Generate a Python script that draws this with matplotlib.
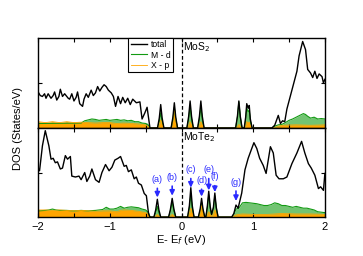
import matplotlib
matplotlib.use('Agg')
import matplotlib.pyplot as plt
from matplotlib.ticker import MultipleLocator

plt.rcParams['font.family'] = ['Liberation Sans', 'DejaVu Sans']

# --- MoS2 (panel superior) ---
e_mos2_tot = [-2.0, -1.97, -1.94, -1.91, -1.89, -1.86, -1.82, -1.79, -1.77, -1.74,
              -1.71, -1.69, -1.66, -1.63, -1.61, -1.58, -1.56, -1.53, -1.50, -1.47,
              -1.45, -1.42, -1.38, -1.36, -1.33, -1.30, -1.26, -1.23, -1.20, -1.17,
              -1.14, -1.11, -1.08, -1.05, -1.02, -0.98, -0.95, -0.92, -0.885, -0.85,
              -0.82, -0.785, -0.75, -0.715, -0.68, -0.63, -0.58, -0.55, -0.51, -0.48,
              -0.44, -0.335, -0.31, -0.29, -0.27, -0.245,
              -0.145, -0.12, -0.10, -0.08, -0.055,
              0.075, 0.10, 0.12, 0.14, 0.165,
              0.225, 0.25, 0.27, 0.29, 0.315,
              0.755, 0.78, 0.80, 0.82, 0.845,
              0.875, 0.895, 0.91, 0.93, 0.945, 0.96, 0.985,
              1.26, 1.30, 1.35, 1.38, 1.41, 1.44, 1.47, 1.52, 1.56, 1.61,
              1.64, 1.69, 1.73, 1.76, 1.80, 1.83, 1.86, 1.89, 1.92, 1.96, 1.98, 2.0]
dos_mos2_tot = [4.0, 3.6, 3.5, 3.8, 3.3, 3.8, 3.3, 3.6, 4.0, 3.1,
                3.5, 4.3, 3.5, 3.8, 3.6, 3.3, 3.2, 3.8, 3.0, 3.4,
                4.0, 2.7, 2.4, 3.2, 3.8, 3.4, 4.2, 3.6, 3.9, 4.6,
                4.1, 4.5, 4.8, 4.6, 4.2, 3.9, 3.5, 2.4, 3.5, 2.7,
                3.4, 2.8, 3.3, 2.6, 3.2, 2.8, 2.9, 1.0, 1.7, 2.3,
                0.0, 0.0, 1.1, 2.6, 1.1, 0.0,
                0.0, 1.2, 2.8, 1.2, 0.0,
                0.0, 1.3, 3.0, 1.3, 0.0,
                0.0, 1.3, 3.0, 1.3, 0.0,
                0.0, 1.3, 3.0, 1.3, 0.0,
                0.0, 1.2, 2.7, 2.2, 2.5, 1.0, 0.0,
                0.0, 0.3, 1.4, 0.5, 0.8, 0.7, 2.1, 3.6, 4.8, 6.3,
                8.0, 9.6, 8.7, 6.5, 6.1, 5.6, 6.3, 5.5, 6.0, 5.7, 5.0, 5.4]

e_mos2_md = [-2.0, -1.4, -1.35, -1.3, -1.25, -1.2, -1.15, -1.1, -1.05, -1.0,
             -0.95, -0.9, -0.85, -0.8, -0.75, -0.7, -0.65, -0.6, -0.55, -0.5,
             -0.47, -0.44,
             -0.335, -0.31, -0.29, -0.27, -0.245,
             -0.145, -0.12, -0.10, -0.08, -0.055,
             0.075, 0.10, 0.12, 0.14, 0.165,
             0.225, 0.25, 0.27, 0.29, 0.315,
             0.755, 0.78, 0.80, 0.82, 0.845,
             0.875, 0.895, 0.91, 0.93, 0.945, 0.96, 0.985,
             1.26, 1.30, 1.35, 1.40, 1.45, 1.5, 1.55, 1.6, 1.65, 1.7,
             1.73, 1.76, 1.8, 1.85, 1.9, 1.95, 2.0]
dos_mos2_md = [0.5, 0.55, 0.8, 0.9, 1.0, 0.95, 0.85, 0.9, 0.95, 0.85,
               0.9, 0.95, 0.85, 0.9, 0.8, 0.85, 0.7, 0.7, 0.55, 0.5,
               0.4, 0.0,
               0.0, 0.7, 1.7, 0.7, 0.0,
               0.0, 0.95, 2.3, 0.95, 0.0,
               0.0, 1.0, 2.4, 1.0, 0.0,
               0.0, 0.95, 2.3, 0.95, 0.0,
               0.0, 1.2, 2.9, 1.2, 0.0,
               0.0, 0.9, 2.2, 1.8, 2.0, 0.8, 0.0,
               0.0, 0.2, 0.35, 0.4, 0.6, 0.85, 1.0, 1.2, 1.4, 1.6,
               1.5, 1.3, 1.1, 1.2, 1.0, 1.05, 1.0]

e_mos2_xp = [-2.0, -1.9, -1.8, -1.7, -1.6, -1.5, -1.4, -1.3, -1.2, -1.1,
             -1.0, -0.9, -0.8, -0.7, -0.6, -0.5, -0.44,
             -0.335, -0.31, -0.29, -0.27, -0.245,
             -0.145, -0.12, -0.10, -0.08, -0.055,
             0.075, 0.10, 0.12, 0.14, 0.165,
             0.225, 0.25, 0.27, 0.29, 0.315,
             0.755, 0.78, 0.80, 0.82, 0.845,
             0.875, 0.895, 0.91, 0.93, 0.945, 0.96, 0.985,
             1.28, 1.35, 1.4, 1.6, 1.8, 2.0]
dos_mos2_xp = [0.7, 0.6, 0.7, 0.6, 0.7, 0.6, 0.65, 0.6, 0.55, 0.6,
               0.6, 0.5, 0.55, 0.5, 0.45, 0.35, 0.0,
               0.0, 0.35, 0.9, 0.35, 0.0,
               0.0, 0.9, 2.2, 0.9, 0.0,
               0.0, 0.3, 0.7, 0.3, 0.0,
               0.0, 0.3, 0.7, 0.3, 0.0,
               0.0, 0.15, 0.4, 0.15, 0.0,
               0.0, 0.3, 0.7, 0.6, 0.65, 0.25, 0.0,
               0.0, 0.2, 0.3, 0.35, 0.3, 0.35]

# --- MoTe2 (panel inferior) ---
e_mote2_tot = [-2.0, -1.98, -1.94, -1.90, -1.85, -1.82, -1.79, -1.76, -1.73, -1.69,
               -1.66, -1.62, -1.59, -1.55, -1.53, -1.48, -1.43, -1.40, -1.35, -1.32,
               -1.28, -1.25, -1.20, -1.15, -1.11, -1.06, -1.01, -0.97, -0.93, -0.885,
               -0.85, -0.80, -0.77, -0.74, -0.70, -0.66, -0.63, -0.60, -0.56, -0.52,
               -0.49, -0.46, -0.44,
               -0.385, -0.36, -0.337, -0.315, -0.29,
               -0.18, -0.155, -0.13, -0.105, -0.08,
               0.085, 0.11, 0.13, 0.15, 0.175,
               0.235, 0.26, 0.28, 0.30, 0.325,
               0.34, 0.36, 0.38, 0.40, 0.42, 0.445, 0.465, 0.485, 0.51,
               0.70, 0.73, 0.76, 0.79, 0.84, 0.885, 0.93, 0.98, 1.01, 1.05,
               1.09, 1.14, 1.18, 1.21, 1.24, 1.28, 1.32, 1.36, 1.42, 1.47,
               1.54, 1.61, 1.675, 1.72, 1.77, 1.81, 1.86, 1.91, 1.94, 1.98, 2.0]
dos_mote2_tot = [5.5, 5.2, 8.0, 9.7, 8.0, 6.5, 6.6, 6.1, 6.2, 5.4,
                 5.5, 6.9, 6.5, 6.8, 4.6, 4.5, 4.6, 4.2, 5.0, 4.0,
                 4.6, 5.4, 4.2, 3.9, 5.0, 5.9, 5.2, 5.6, 6.4, 6.6,
                 6.8, 5.7, 5.8, 5.1, 5.3, 4.3, 4.5, 3.8, 3.6, 2.65,
                 2.4, 0.4, 0.0,
                 0.0, 0.8, 2.0, 0.8, 0.0,
                 0.0, 0.85, 2.1, 0.85, 0.0,
                 0.0, 1.3, 3.3, 1.3, 0.0,
                 0.0, 0.9, 2.1, 0.9, 0.0,
                 0.0, 1.2, 2.9, 1.2, 0.3, 1.1, 2.7, 1.1, 0.0,
                 0.0, 0.4, 1.35, 1.0, 2.7, 5.3, 6.6, 7.7, 8.35, 7.7,
                 6.6, 5.8, 4.9, 6.4, 7.9, 7.2, 4.7, 4.3, 4.3, 4.5,
                 6.0, 7.2, 8.5, 7.2, 6.0, 5.5, 4.7, 3.2, 3.4, 3.0, 4.9]

e_mote2_md = [-2.0, -1.9, -1.85, -1.8, -1.75, -1.7, -1.6, -1.5, -1.4, -1.3,
              -1.2, -1.1, -1.05, -1.0, -0.95, -0.9, -0.85, -0.8, -0.75, -0.7,
              -0.65, -0.6, -0.55, -0.5, -0.46, -0.44,
              -0.385, -0.36, -0.337, -0.315, -0.29,
              -0.18, -0.155, -0.13, -0.105, -0.08,
              0.085, 0.11, 0.13, 0.15, 0.175,
              0.235, 0.26, 0.28, 0.30, 0.325,
              0.34, 0.36, 0.38, 0.40, 0.42, 0.445, 0.465, 0.485, 0.51,
              0.70, 0.73, 0.76, 0.80, 0.85, 0.9, 0.95, 1.0, 1.05, 1.1,
              1.15, 1.2, 1.25, 1.3, 1.35, 1.4, 1.45, 1.5, 1.55, 1.6,
              1.65, 1.7, 1.75, 1.8, 1.85, 1.9, 1.95, 2.0]
dos_mote2_md = [0.7, 0.75, 0.8, 0.9, 0.8, 0.75, 0.75, 0.7, 0.75, 0.7,
                0.75, 0.85, 1.1, 0.9, 0.9, 1.0, 1.2, 1.0, 1.1, 1.15,
                1.1, 1.05, 0.9, 0.8, 0.5, 0.0,
                0.0, 0.5, 1.2, 0.5, 0.0,
                0.0, 0.7, 1.7, 0.7, 0.0,
                0.0, 1.0, 2.5, 1.0, 0.0,
                0.0, 0.7, 1.7, 0.7, 0.0,
                0.0, 1.0, 2.5, 1.0, 0.25, 1.0, 2.4, 1.0, 0.0,
                0.0, 0.3, 0.9, 1.0, 1.6, 1.65, 1.6, 1.55, 1.5, 1.4,
                1.3, 1.3, 1.4, 1.6, 1.5, 1.3, 1.3, 1.2, 1.1, 1.2,
                1.1, 1.0, 1.0, 0.9, 0.8, 0.6, 0.55, 0.5]

e_mote2_xp = [-2.0, -1.9, -1.8, -1.7, -1.6, -1.5, -1.4, -1.3, -1.2, -1.1,
              -1.0, -0.9, -0.85, -0.8, -0.7, -0.6, -0.5, -0.46, -0.44,
              -0.385, -0.36, -0.337, -0.315, -0.29,
              -0.18, -0.155, -0.13, -0.105, -0.08,
              0.085, 0.11, 0.13, 0.15, 0.175,
              0.235, 0.26, 0.28, 0.30, 0.325,
              0.34, 0.36, 0.38, 0.40, 0.42, 0.445, 0.465, 0.485, 0.51,
              0.70, 0.76, 0.85, 1.0, 1.2, 1.4, 1.6, 1.8, 2.0]
dos_mote2_xp = [0.8, 0.8, 0.75, 0.8, 0.75, 0.7, 0.75, 0.7, 0.65, 0.7,
                0.7, 0.6, 0.75, 0.8, 0.75, 0.65, 0.5, 0.3, 0.0,
                0.0, 0.12, 0.3, 0.12, 0.0,
                0.0, 0.12, 0.3, 0.12, 0.0,
                0.0, 0.4, 1.0, 0.4, 0.0,
                0.0, 0.55, 1.3, 0.55, 0.0,
                0.0, 0.25, 0.6, 0.25, 0.1, 0.35, 0.8, 0.35, 0.0,
                0.0, 0.25, 0.35, 0.3, 0.3, 0.4, 0.35, 0.35, 0.3]

# Etiquetas de los estados en el gap (MoTe2)
peak_labels = ['(a)', '(b)', '(c)', '(d)', '(e)', '(f)', '(g)']
peak_e = [-0.337, -0.13, 0.13, 0.28, 0.38, 0.465, 0.76]
peak_text_y = [4.2, 4.45, 5.3, 4.1, 5.3, 4.5, 3.9]
peak_tip_y = [2.2, 2.4, 3.3, 2.3, 3.0, 2.8, 1.8]

C_MD_LINE = '#129a12'
C_MD_FILL = '#72c472'
C_XP = '#ffa500'
C_ARROW = '#2a2aff'

fig = plt.figure(figsize=(3.63, 2.56), dpi=100)
ax1 = fig.add_axes([0.105, 0.5, 0.79, 0.352])
ax2 = fig.add_axes([0.105, 0.152, 0.79, 0.348], sharex=ax1)

panels = [
    (ax1, e_mos2_tot, dos_mos2_tot, e_mos2_md, dos_mos2_md, e_mos2_xp, dos_mos2_xp, 'MoS$_2$'),
    (ax2, e_mote2_tot, dos_mote2_tot, e_mote2_md, dos_mote2_md, e_mote2_xp, dos_mote2_xp, 'MoTe$_2$'),
]

for ax, et, vt, em, vm, ex, vx, name in panels:
    ax.fill_between(em, vm, 0, color=C_MD_FILL, lw=0)
    ax.plot(em, vm, color=C_MD_LINE, lw=0.8, label='M - d')
    ax.fill_between(ex, vx, 0, color=C_XP, lw=0)
    ax.plot(ex, vx, color=C_XP, lw=0.6, label='X - p')
    ax.plot(et, vt, color='black', lw=1.0, label='total', zorder=4)
    ax.axvline(0, color='black', ls=(0, (3, 2)), lw=0.9, zorder=5)
    ax.set_xlim(-2, 2)
    ax.set_ylim(0, 10)
    ax.set_yticks([5])
    ax.yaxis.set_major_formatter(plt.NullFormatter())
    ax.xaxis.set_major_locator(MultipleLocator(1))
    ax.xaxis.set_minor_locator(MultipleLocator(0.5))
    ax.tick_params(which='both', direction='in', top=True, right=True,
                   length=3, width=0.8, labelsize=8)
    for sp in ax.spines.values():
        sp.set_linewidth(1.0)
    ax.text(0.02, 9.7, name, fontsize=7.5, va='top', ha='left', zorder=6)

ax1.tick_params(labelbottom=False)

h, l = ax1.get_legend_handles_labels()
order = [l.index('total'), l.index('M - d'), l.index('X - p')]
leg = ax1.legend([h[i] for i in order], [l[i] for i in order],
                 loc='upper left', bbox_to_anchor=(0.314, 1.0), borderaxespad=0,
                 fontsize=6.2, handlelength=1.9, labelspacing=0.12, borderpad=0.3,
                 handletextpad=0.4, fancybox=False, framealpha=1, edgecolor='black')
leg.get_frame().set_linewidth(0.8)
leg.set_zorder(10)

for lab, e, ty, tip in zip(peak_labels, peak_e, peak_text_y, peak_tip_y):
    ax2.annotate(lab, xy=(e, tip), xytext=(e, ty), ha='center', va='center',
                 fontsize=6.5, color=C_ARROW, zorder=7,
                 arrowprops=dict(arrowstyle='-|>,head_length=0.45,head_width=0.22',
                                 color=C_ARROW, lw=1.2, shrinkA=1, shrinkB=0))

ax2.set_xlabel('E- E$_f$ (eV)', fontsize=8, labelpad=1)
fig.text(0.05, 0.5, 'DOS (States/eV)', rotation=90, fontsize=8, ha='center', va='center')

fig.savefig('out.png', dpi=100)
